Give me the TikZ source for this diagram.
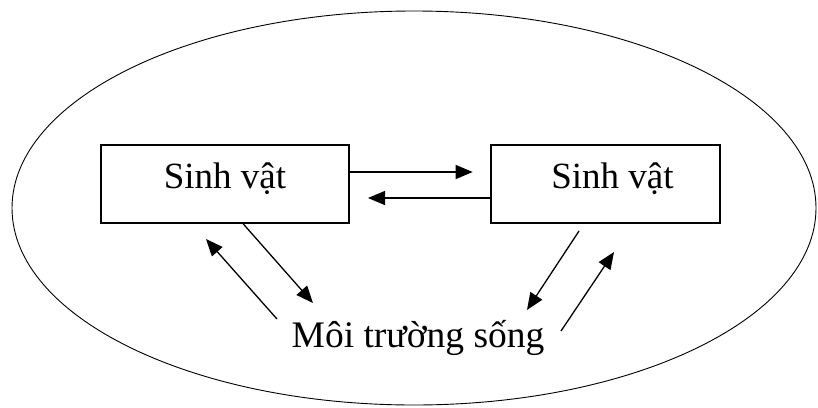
\documentclass[tikz,border=0pt]{standalone}
\usepackage{fontspec}
\setmainfont{Liberation Serif}
\usetikzlibrary{arrows.meta}
\begin{document}
\begin{tikzpicture}[x=1pt,y=-1pt,
  box/.style={draw,line width=1.2pt,minimum width=#1,minimum height=78pt,inner sep=0pt,
    text height=20pt,text depth=12pt,font=\fontsize{37}{40}\selectfont},
  arr/.style={line width=1.3pt,-{Triangle[length=17pt,width=14pt]}},
  lbl/.style={font=\fontsize{37.5}{40}\selectfont,inner sep=0pt}]
\useasboundingbox (0,0) rectangle (818,407);
\draw[line width=0.9pt] (414,208) ellipse [x radius=402, y radius=197];
\node[box=248pt] (b1) at (225,184) {Sinh vật};
\node[box=229pt] (b2) at (605.5,184) {\hspace*{14pt}Sinh vật};
\node[lbl,anchor=base] (env) at (418,347) {Môi trường sống};
\coordinate (t1) at (472.7,172);
\coordinate (t2) at (368,198);
\coordinate (c1) at (313,303);
\coordinate (s2) at (277,319);
\coordinate (c2) at (206,239);
\coordinate (s3) at (579,231);
\coordinate (c3) at (527,310);
\coordinate (s4) at (561,331);
\coordinate (c4) at (614,252);
\draw[arr] (b1.east |- t1) -- (t1);
\draw[arr] (b2.west |- t2) -- (t2);
\draw[arr] (b1.south -| 243,0) -- (c1);
\draw[arr] (s2) -- (c2);
\draw[arr] (s3) -- (c3);
\draw[arr] (s4) -- (c4);
\end{tikzpicture}
\end{document}
